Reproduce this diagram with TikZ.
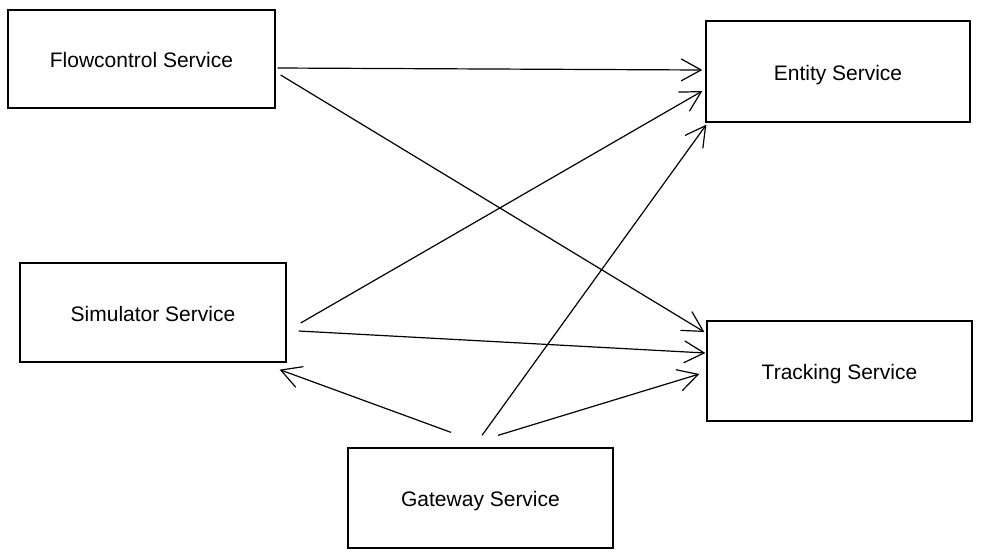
\documentclass[tikz,border=0pt]{standalone}
\usepackage{fontspec}
\setmainfont{Liberation Sans}
\usetikzlibrary{arrows.meta}
\begin{document}
\begin{tikzpicture}[x=1pt,y=-1pt,
  svc/.style={draw=black,line width=1.3pt,rectangle,inner sep=0pt,text height=19pt,text depth=1.5pt,font=\fontsize{21}{24}\selectfont},
  conn/.style={draw=black,line width=1.2pt,-{Straight Barb[length=20pt,width=22pt,line width=1.2pt]}}]
\useasboundingbox[fill=white] (0,0) rectangle (983,558);
\node[svc,minimum width=267pt,minimum height=98pt] (flow) at (141.5,59) {Flowcontrol Service};
\node[svc,minimum width=264pt,minimum height=101pt] (entity) at (838,71.5) {Entity Service};
\node[svc,minimum width=266pt,minimum height=99pt] (sim) at (153,312.5) {Simulator Service};
\node[svc,minimum width=265pt,minimum height=100pt] (track) at (839.5,371) {Tracking Service};
\node[svc,minimum width=265pt,minimum height=100pt] (gate) at (480.5,498) {Gateway Service};
\draw[conn] ([xshift=2pt,yshift=-9pt]flow.east) -- ([xshift=-3pt,yshift=1.5pt]entity.west);
\draw[conn] ([xshift=5pt,yshift=-16pt]flow.east) -- ([xshift=-2pt,yshift=39pt]track.west);
\draw[conn] ([xshift=14pt,yshift=-10.5pt]sim.east) -- ([xshift=-3pt,yshift=-19.5pt]entity.west);
\draw[conn] ([xshift=12pt,yshift=-18.5pt]sim.east) -- ([xshift=-1pt,yshift=18pt]track.west);
\draw[conn] ([xshift=-29.5pt,yshift=15pt]gate.north) -- ([xshift=-7pt,yshift=-7pt]sim.south east);
\draw[conn] ([xshift=1.5pt,yshift=12pt]gate.north) -- ([xshift=1pt,yshift=-2pt]entity.south west);
\draw[conn] ([xshift=17.5pt,yshift=12pt]gate.north) -- ([xshift=-7pt,yshift=-3pt]track.west);
\end{tikzpicture}
\end{document}
